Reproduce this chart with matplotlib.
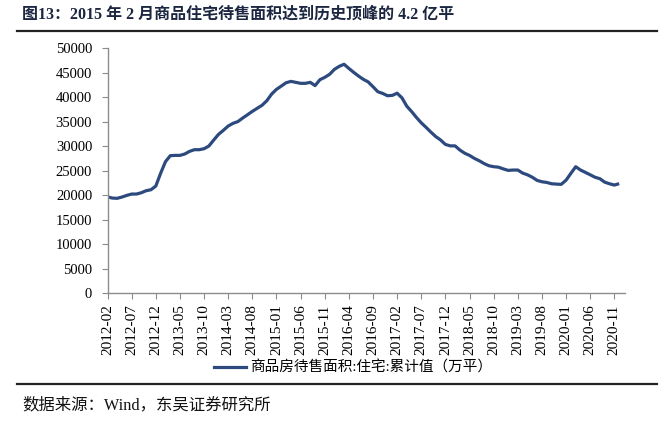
import matplotlib
matplotlib.use("Agg")
import matplotlib.pyplot as plt
import pandas as pd
from matplotlib.lines import Line2D

# monthly, 2012-02 .. 2020-12 (万平方米)
months = pd.period_range("2012-02", "2020-12", freq="M").strftime("%Y-%m").tolist()
stock = [
    19700, 19450, 19400, 19660, 20000, 20270, 20270, 20540, 20950, 21150,
    21900, 24500, 26870, 28100, 28160, 28160, 28440, 28980, 29320, 29320,
    29520, 30070, 31290, 32450, 33270, 34150, 34700, 35050, 35780, 36450,
    37140, 37760, 38370, 39310, 40670, 41630, 42300, 42980, 43260, 43060,
    42860, 42860, 43060, 42400, 43600, 44080, 44690, 45710, 46320, 46750,
    45900, 45100, 44350, 43670, 43150, 42170, 41150, 40800, 40330, 40400,
    40850, 39900, 38200, 37100, 35900, 34800, 33870, 32900, 32000, 31300,
    30400, 30100, 30100, 29250, 28600, 28150, 27550, 27070, 26500, 26050,
    25850, 25750, 25400, 25100, 25170, 25170, 24550, 24200, 23700, 23060,
    22780, 22640, 22370, 22300, 22250, 23100, 24500, 25850, 25170, 24690,
    24200, 23700, 23400, 22700, 22370, 22100, 22400,
]
tick_idx = list(range(0, len(months), 5))
tick_labels = [months[i] for i in tick_idx]
y_ticks = list(range(0, 50001, 5000))

TITLE = "图13：2015 年 2 月商品住宅待售面积达到历史顶峰的 4.2 亿平"
LEGEND = "商品房待售面积:住宅:累计值（万平）"
SOURCE = "数据来源：Wind，东吴证券研究所"

FONTS = ["Liberation Serif", "Noto Sans CJK SC", "DejaVu Sans"]
plt.rcParams["font.family"] = FONTS
LINE_COLOR = "#2c4a7e"
AXIS_COLOR = "#8c8c8c"

fig = plt.figure(figsize=(6.72, 4.24), dpi=100)
ax = fig.add_axes([0.160, 0.308, 0.770, 0.578])

ax.plot(range(len(stock)), stock, color=LINE_COLOR, lw=2.3,
        solid_joinstyle="round", solid_capstyle="butt")

ax.set_xlim(0, 107.2)
ax.set_ylim(0, 50000)
ax.set_yticks(y_ticks)
ax.set_xticks(tick_idx)
ax.set_xticklabels(tick_labels, rotation=90, fontsize=11)
ax.tick_params(axis="y", labelsize=10.5, length=4, color=AXIS_COLOR, pad=7)
ax.tick_params(axis="x", length=4, color=AXIS_COLOR, pad=4)
for side in ("top", "right"):
    ax.spines[side].set_visible(False)
for side in ("left", "bottom"):
    ax.spines[side].set_color(AXIS_COLOR)
    ax.spines[side].set_linewidth(1.0)

# legend below the axis
handle = Line2D([], [], color=LINE_COLOR, lw=2.3)
fig.legend([handle], [LEGEND], loc="center", bbox_to_anchor=(0.525, 1 - 368 / 424),
           frameon=False, fontsize=10.5, handlelength=2.2, handletextpad=0.3)

# title, rules, source
fig.text(22 / 672, 1 - 15 / 424, TITLE, fontsize=11.5, fontweight="bold",
         color="#1b2640", va="center", ha="left")
fig.add_artist(Line2D([16.7 / 672, 656.7 / 672], [1 - 30.7 / 424] * 2,
                      color="#222222", lw=1.6, transform=fig.transFigure))
fig.add_artist(Line2D([16.7 / 672, 656.7 / 672], [1 - 384 / 424] * 2,
                      color="#222222", lw=1.6, transform=fig.transFigure))
fig.text(22 / 672, 1 - 405 / 424, SOURCE, fontsize=11.8, color="#111111",
         va="center", ha="left")

fig.savefig("out.png", dpi=100)
